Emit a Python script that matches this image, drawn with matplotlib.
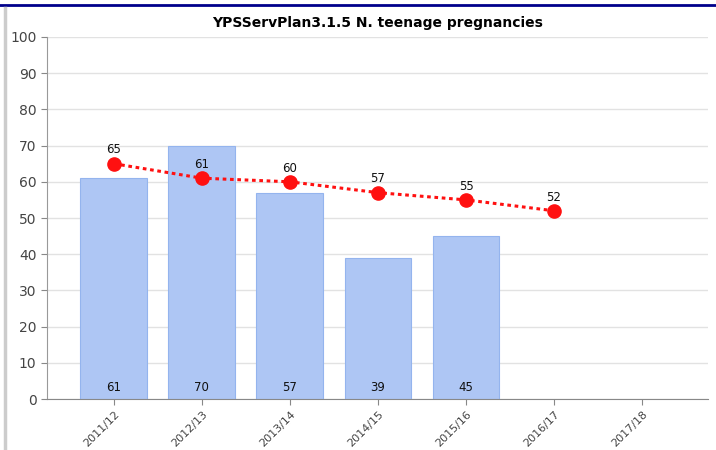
import matplotlib

matplotlib.use("Agg")
import matplotlib.pyplot as plt
from matplotlib.lines import Line2D
import numpy as np

years = ["2011/12", "2012/13", "2013/14", "2014/15", "2015/16", "2016/17", "2017/18"]
actual = [61, 70, 57, 39, 45]
target = [65, 61, 60, 57, 55, 52]

plt.rcParams["font.family"] = ["DejaVu Sans"]

fig = plt.figure(figsize=(7.16, 4.5), dpi=100)
ax = fig.add_axes([0.0656, 0.1133, 0.9234, 0.8045])

x = np.arange(len(years))
xa = x[:len(actual)]
xt = x[:len(target)]

ax.bar(xa, actual, width=0.76, color="#aec6f4", edgecolor="#94b4ee", linewidth=0.8, zorder=2)
for xi, v in zip(xa, actual):
    ax.text(xi, 1.5, str(v), ha="center", va="bottom", fontsize=8.5, color="#111111", zorder=4)

ax.plot(xt, target, color="#ff1010", linestyle=(0, (1.2, 1.2)), linewidth=2.2,
        marker="o", markersize=9.5, zorder=3)
for xi, v in zip(xt, target):
    ax.text(xi, v + 2.0, str(v), ha="center", va="bottom", fontsize=8.5, color="#111111", zorder=4)

ax.set_xlim(-0.76, 6.75)
ax.set_ylim(0, 100)
ax.set_yticks(np.arange(0, 101, 10))
ax.set_xticks(x)
ax.set_xticklabels(years, rotation=45, ha="right", rotation_mode="anchor", fontsize=8, color="#444444")
ax.tick_params(axis="y", labelsize=10, labelcolor="#444444", color="#888888", length=4)
ax.tick_params(axis="x", color="#888888", length=4)
ax.grid(True, axis="y", color="#e2e2e2", linewidth=1, zorder=0)
ax.set_axisbelow(True)
for side in ["top", "right"]:
    ax.spines[side].set_visible(False)
ax.spines["left"].set_color("#999999")
ax.spines["bottom"].set_color("#888888")

ax.set_title("YPSServPlan3.1.5 N. teenage pregnancies", fontsize=10, fontweight="bold", pad=7)

# frame decorations
fig.add_artist(Line2D([0, 1], [0.988, 0.988], transform=fig.transFigure, color="#00008b", linewidth=2))
fig.add_artist(Line2D([0.007, 0.007], [0, 0.982], transform=fig.transFigure, color="#cccccc", linewidth=2.5))

fig.savefig("out.png")
plt.close(fig)
